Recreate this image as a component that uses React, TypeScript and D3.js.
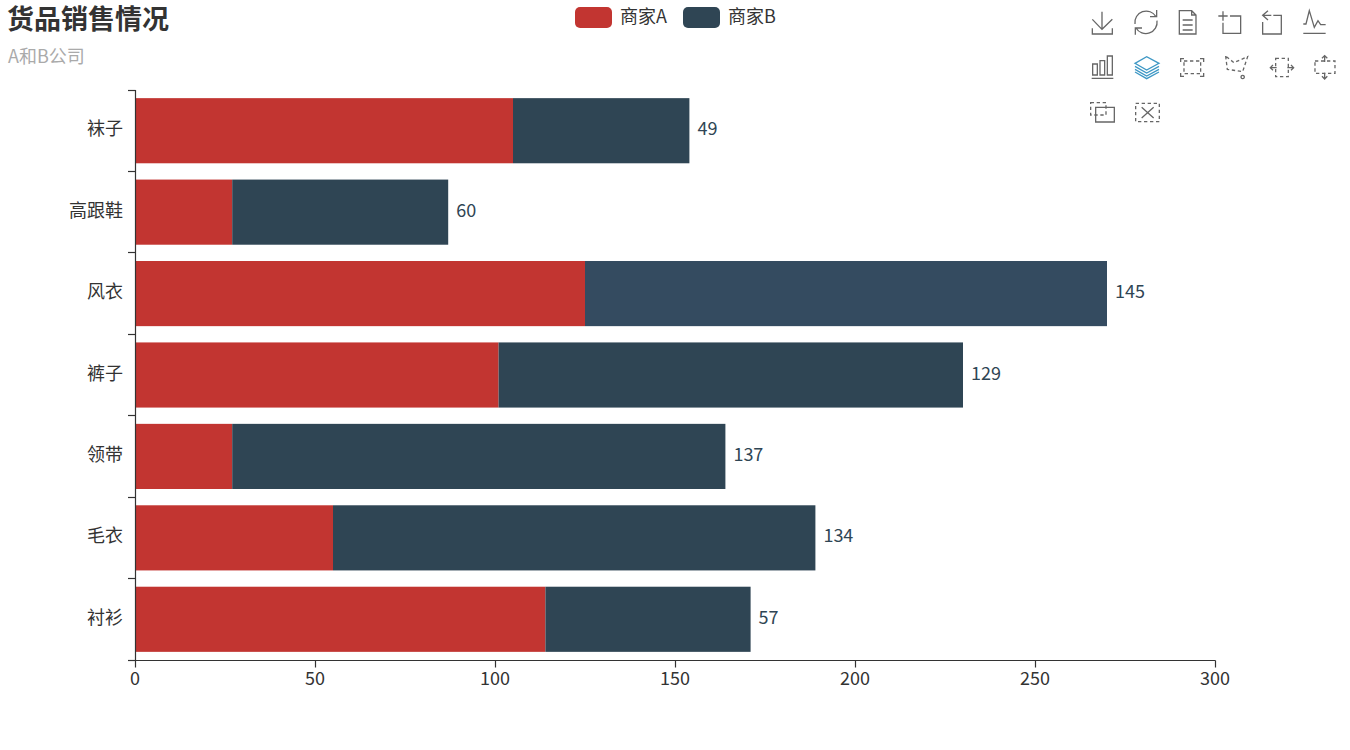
import * as d3 from "d3";

const categories = ["衬衫", "毛衣", "领带", "裤子", "风衣", "高跟鞋", "袜子"];
const sellerA = [114, 55, 27, 101, 125, 27, 105];
const sellerB = [57, 134, 137, 129, 145, 60, 49];
const xTicks = [0, 50, 100, 150, 200, 250, 300];
const seriesNames = ["商家A", "商家B"];

const WIDTH = 1350;
const HEIGHT = 750;
const FONT = "'Noto Sans CJK SC', 'Noto Sans', sans-serif";
const RED = "#c23531";
const NAVY = "#2f4554";
const NAVY_HOVER = "#344b60";
const AXIS = "#333";

const x = d3.scaleLinear().domain([0, 300]).range([135, 1215]);
// first category sits at the bottom, same as a value-on-x echarts bar
const y = d3
  .scaleBand<string>()
  .domain([...categories].reverse())
  .range([90, 660])
  .paddingInner(0.2)
  .paddingOuter(0.1);
const band = d3
  .scaleBand<string>()
  .domain([...categories].reverse())
  .range([90, 660]);

// toolbox icons, traced at 3x, the group below scales them back down
const toolIcons: { d: string; dashed?: boolean; color?: string }[] = [
  { d: "M66,35V88M37,58L66,88L97,58M37,85V102H97V85" },
  { d: "M165,72A34,34 0 0 1 228,50M230,30V50H210M231,62A34,34 0 0 1 168,84M166,104V84H186" },
  { d: "M298,32H335L348,45V102H298ZM335,32V45H348M308,60H338M308,75H338M308,90H338" },
  { d: "M415,48H443M429,34V62M450,48H482V100H429V68" },
  { d: "M580,46H604V102H548V66M548,46H574M564,32L548,46L564,60" },
  { d: "M670,100H737M670,72H678L688,32L703,82L714,62L722,74H737" },
  { d: "M35,235H100M38,192H52V225H38ZM60,182H74V225H60ZM82,168H97V225H82Z" },
  {
    d: "M165,190L200,170L237,190L200,210ZM165,199L200,219L237,199M165,208L200,228L237,208M165,216L200,236L237,216",
    color: "#3e98c5",
  },
  { d: "M312,183H362V221H312Z", dashed: true },
  { d: "M302,186V176H312M360,176H371V186M371,219V229H360M312,229H302V219" },
  { d: "M437,168L442,208L488,215L503,170L462,188Z", dashed: true },
  { d: "M488,226a5,5 0 1 0 0.1,0" },
  { d: "M587,175H625V230H587Z", dashed: true },
  { d: "M571,203H590M579,195L571,203L579,211M622,203H641M633,195L641,203L633,211" },
  { d: "M705,183H765V220H705Z", dashed: true },
  { d: "M734,167V186M726,175L734,167L742,175M734,218V237M726,229L734,237L742,229" },
  { d: "M32,308H78V345H32Z", dashed: true },
  { d: "M47,322H103V366H47Z" },
  { d: "M167,310H238V365H167Z", dashed: true },
  { d: "M185,322L221,354M221,322L185,354" },
];

export default function App() {
  const segments = categories.map((c, i) => ({
    name: c,
    a: sellerA[i],
    b: sellerB[i],
  }));

  return (
    <svg
      width={WIDTH}
      height={HEIGHT}
      style={{ position: "fixed", left: 0, top: 0, background: "#fff" }}
      fontFamily={FONT}
    >
      <text x={7} y={29} fontSize={27} fontWeight="bold" fill="#333">
        货品销售情况
      </text>
      <text x={8} y={63} fontSize={18} fill="#aaa">
        A和B公司
      </text>

      {/* legend */}
      {seriesNames.map((name, i) => (
        <g key={name} transform={`translate(${575 + i * 108},7)`}>
          <rect width={37} height={21} rx={5} fill={i === 0 ? RED : NAVY} />
          <text x={45} y={16} fontSize={18} fill="#333">
            {name}
          </text>
        </g>
      ))}

      {/* bars */}
      {segments.map((s) => (
        <g key={s.name}>
          <rect
            x={x(0)}
            y={y(s.name)}
            width={x(s.a) - x(0)}
            height={y.bandwidth()}
            fill={RED}
          />
          <rect
            x={x(s.a)}
            y={y(s.name)}
            width={x(s.a + s.b) - x(s.a)}
            height={y.bandwidth()}
            fill={s.name === "风衣" ? NAVY_HOVER : NAVY}
          />
          <text
            x={x(s.a + s.b) + 8}
            y={y(s.name)! + y.bandwidth() / 2 + 4.5}
            fontSize={18}
            fill={NAVY}
          >
            {s.b}
          </text>
        </g>
      ))}

      {/* y axis */}
      <line x1={135.5} x2={135.5} y1={90} y2={660.5} stroke={AXIS} strokeWidth={1.2} />
      {[...band.domain().map((c) => band(c)!), 660].map((t) => (
        <line
          key={t}
          x1={128}
          x2={135.5}
          y1={Math.floor(t) + 0.5}
          y2={Math.floor(t) + 0.5}
          stroke={AXIS}
          strokeWidth={1.2}
        />
      ))}
      {categories.map((c) => (
        <text
          key={c}
          x={123}
          y={band(c)! + band.bandwidth() / 2 + 4.5}
          textAnchor="end"
          fontSize={18}
          fill={AXIS}
        >
          {c}
        </text>
      ))}

      {/* x axis */}
      <line x1={135} x2={1215.5} y1={660.5} y2={660.5} stroke={AXIS} strokeWidth={1.2} />
      {xTicks.map((t) => (
        <g key={t}>
          <line x1={x(t) + 0.5} x2={x(t) + 0.5} y1={660.5} y2={667.5} stroke={AXIS} strokeWidth={1.2} />
          <text x={x(t)} y={685} textAnchor="middle" fontSize={18} fill={AXIS}>
            {t}
          </text>
        </g>
      ))}

      {/* toolbox */}
      <g transform="translate(1080,0) scale(0.3333)" fill="none">
        {toolIcons.map((icon, i) => (
          <path
            key={i}
            d={icon.d}
            stroke={icon.color ?? "#666"}
            strokeWidth={3.9}
            strokeDasharray={icon.dashed ? "10 8" : undefined}
          />
        ))}
      </g>
    </svg>
  );
}
